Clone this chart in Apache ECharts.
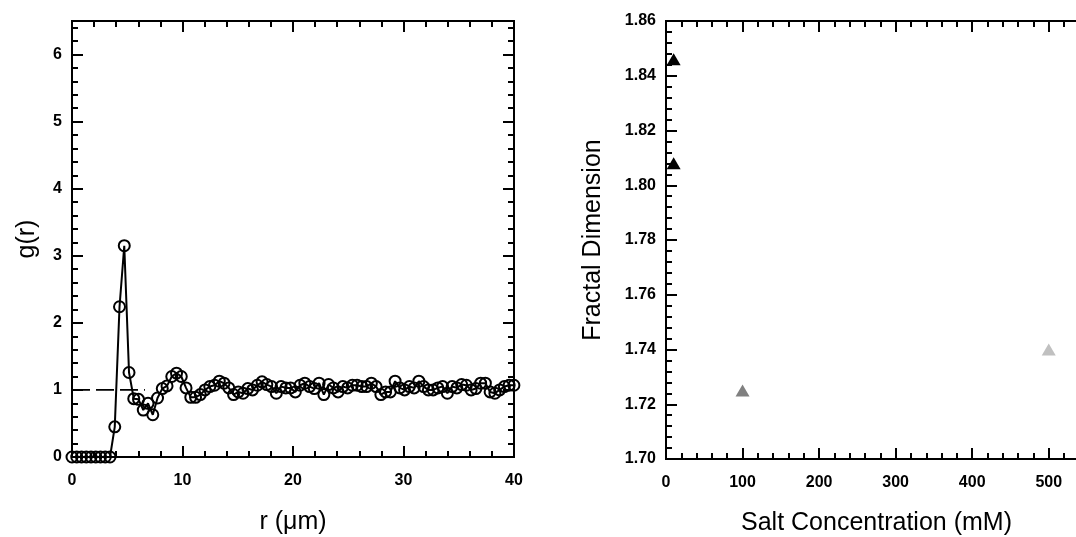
<!DOCTYPE html>
<html>
<head>
<meta charset="utf-8">
<script src="https://cdn.jsdelivr.net/npm/echarts@6/dist/echarts.min.js"></script>
<style>
html,body{margin:0;padding:0;background:#fff;}
#chart{width:1076px;height:537px;}
</style>
</head>
<body>
<div id="chart"></div>
<script>
// ---- Left panel: radial distribution g(r) ----
const rValues = [0, 0.43, 0.86, 1.29, 1.72, 2.15, 2.58, 3.01, 3.44, 3.87, 4.30, 4.73, 5.16, 5.59, 6.02, 6.45, 6.88, 7.31, 7.74, 8.17, 8.60, 9.03, 9.46, 9.89, 10.32, 10.75, 11.18, 11.61, 12.04, 12.47, 12.90, 13.33, 13.76, 14.19, 14.62, 15.05, 15.48, 15.91, 16.34, 16.77, 17.20, 17.63, 18.06, 18.49, 18.92, 19.35, 19.78, 20.21, 20.64, 21.07, 21.50, 21.93, 22.36, 22.79, 23.22, 23.65, 24.08, 24.51, 24.94, 25.37, 25.80, 26.23, 26.66, 27.09, 27.52, 27.95, 28.38, 28.81, 29.24, 29.67, 30.10, 30.53, 30.96, 31.39, 31.82, 32.25, 32.68, 33.11, 33.54, 33.97, 34.40, 34.83, 35.26, 35.69, 36.12, 36.55, 36.98, 37.41, 37.84, 38.27, 38.70, 39.13, 39.56, 39.99];
const gValues = [0, 0, 0, 0, 0, 0, 0, 0, 0, 0.45, 2.24, 3.15, 1.26, 0.87, 0.86, 0.70, 0.80, 0.63, 0.88, 1.02, 1.06, 1.20, 1.25, 1.20, 1.03, 0.89, 0.89, 0.93, 1.00, 1.05, 1.07, 1.13, 1.10, 1.03, 0.93, 0.97, 0.95, 1.02, 1.00, 1.07, 1.12, 1.08, 1.05, 0.95, 1.05, 1.03, 1.03, 0.97, 1.07, 1.10, 1.05, 1.02, 1.10, 0.93, 1.08, 1.03, 0.97, 1.05, 1.03, 1.07, 1.07, 1.05, 1.05, 1.10, 1.05, 0.93, 0.97, 0.97, 1.13, 1.03, 1.00, 1.05, 1.03, 1.13, 1.05, 1.00, 1.00, 1.03, 1.05, 0.95, 1.05, 1.03, 1.08, 1.07, 1.00, 1.02, 1.10, 1.10, 0.97, 0.95, 1.00, 1.05, 1.07, 1.07];
const refLineX = [0, 6.6];
const refLineY = [1, 1];
const leftXRange = [0, 40];
const leftYRange = [0, 6.5];
const leftXStep = [10, 2];   // major, minor
const leftYStep = [1, 0.2];

// ---- Right panel: fractal dimension vs salt ----
const saltConc = [10, 10, 100, 500];
const fractalDim = [1.846, 1.808, 1.725, 1.740];
const pointShade = ['#000000', '#000000', '#808080', '#c0c0c0'];
const rightXRange = [0, 550];
const rightYRange = [1.70, 1.86];
const rightXStep = [100, 20];
const rightYStep = [0.02, 0.004];

const FONT = "'Liberation Sans', Arial, Helvetica, sans-serif";

function axisSet(kind, grid, range, steps, opts) {
  const out = [];
  const sides = kind === 'x' ? ['bottom', 'top'] : ['left', 'right'];
  sides.forEach((pos, si) => {
    [0, 1].forEach(mi => {
      const main = si === 0 && mi === 0;
      const a = {
        type: 'value',
        gridIndex: grid,
        position: pos,
        offset: 0,
        min: range[0],
        max: range[1],
        interval: steps[mi],
        splitLine: {show: false},
        axisLine: {show: true, onZero: false, lineStyle: {color: '#000', width: 2}},
        axisTick: {show: true, inside: true, length: mi === 0 ? 11 : 6, lineStyle: {color: '#000', width: 2}},
        axisLabel: {show: main, showMaxLabel: opts.showMax, color: '#000', fontFamily: FONT, fontWeight: 'bold', fontSize: 16, margin: kind === 'x' ? 16 : 10,
          formatter: opts.fmt},
        z: 5
      };
      if (main) {
        a.name = opts.name;
        a.nameLocation = 'middle';
        a.nameGap = opts.nameGap;
        a.nameTextStyle = {color: '#000', fontFamily: FONT, fontSize: 25};
      }
      out.push(a);
    });
  });
  return out;
}

const xAxes = [
  ...axisSet('x', 0, leftXRange, leftXStep, {name: 'r (\u03bcm)', nameGap: 53, showMax: true, fmt: v => String(v)}),
  ...axisSet('x', 1, rightXRange, rightXStep, {name: 'Salt Concentration (mM)', nameGap: 52, showMax: false, fmt: v => String(Math.round(v))})
];
const yAxes = [
  ...axisSet('y', 0, leftYRange, leftYStep, {name: 'g(r)', nameGap: 32, showMax: false, fmt: v => String(v)}),
  ...axisSet('y', 1, rightYRange, rightYStep, {name: 'Fractal Dimension', nameGap: 60, showMax: true, fmt: v => v.toFixed(2)})
];

const gData = rValues.map((r, i) => [r, gValues[i]]);
const refData = refLineX.map((x, i) => [x, refLineY[i]]);
const fdData = saltConc.map((s, i) => ({value: [s, fractalDim[i]], itemStyle: {color: pointShade[i], opacity: 1}}));

const chart = echarts.init(document.getElementById('chart'), null, {renderer: 'canvas'});
chart.setOption({
  animation: false,
  backgroundColor: '#fff',
  grid: [
    {left: 72, top: 21, width: 442, height: 436, outerBoundsMode: 'none', containLabel: false},
    {left: 666, top: 21, width: 421, height: 438, outerBoundsMode: 'none', containLabel: false}
  ],
  xAxis: xAxes,
  yAxis: yAxes,
  series: [
    {
      type: 'line', xAxisIndex: 0, yAxisIndex: 0,
      data: refData, symbol: 'none',
      lineStyle: {color: '#000', width: 1.6, type: [18, 6]},
      z: 2
    },
    {
      type: 'line', xAxisIndex: 0, yAxisIndex: 0,
      data: gData,
      symbol: 'circle', symbolSize: 11, showAllSymbol: true,
      lineStyle: {color: '#000', width: 2},
      itemStyle: {color: 'rgba(0,0,0,0)', borderColor: '#000', borderWidth: 2},
      z: 3
    },
    {
      type: 'scatter', xAxisIndex: 4, yAxisIndex: 4,
      data: fdData,
      symbol: 'triangle', symbolSize: [14, 12],
      z: 3
    }
  ]
});
</script>
</body>
</html>
